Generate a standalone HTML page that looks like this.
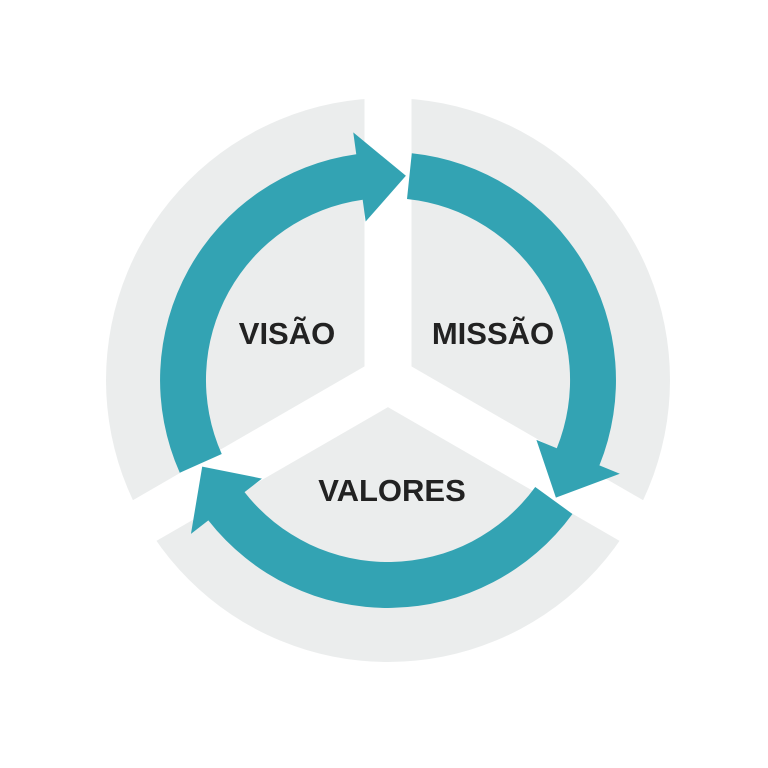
<!DOCTYPE html>
<html><head><meta charset="utf-8"><style>
html,body{margin:0;padding:0;background:#fff;}
svg{display:block}
text{font-family:"Liberation Sans",sans-serif;font-weight:bold;font-size:31px;fill:#222;}
</style></head><body>
<svg width="768" height="768" viewBox="0 0 768 768">
<circle cx="388" cy="380" r="282" fill="#ebeded"/>
<g stroke="#fff" stroke-width="47" stroke-linecap="butt">
<line x1="388" y1="380" x2="388" y2="60"/>
<line x1="388" y1="380" x2="665" y2="540"/>
<line x1="388" y1="380" x2="111" y2="540"/>
</g>
<g fill="#33a3b3">
<path id="a" d="M411.8,153.3 A228,228 0 0 1 599.4,465.4 L619.8,473.7 L555.9,497.6 L536.4,439.9 L556.8,448.2 A182,182 0 0 0 407.0,199.0 Z"/>
<path d="M411.8,153.3 A228,228 0 0 1 599.4,465.4 L619.8,473.7 L555.9,497.6 L536.4,439.9 L556.8,448.2 A182,182 0 0 0 407.0,199.0 Z" transform="rotate(120 388 380)"/>
<path d="M411.8,153.3 A228,228 0 0 1 599.4,465.4 L619.8,473.7 L555.9,497.6 L536.4,439.9 L556.8,448.2 A182,182 0 0 0 407.0,199.0 Z" transform="rotate(240 388 380)"/>
</g>
<text x="287" y="344" text-anchor="middle">VISÃO</text>
<text x="493" y="344" text-anchor="middle">MISSÃO</text>
<text x="392" y="501" text-anchor="middle">VALORES</text>
</svg>
</body></html>
